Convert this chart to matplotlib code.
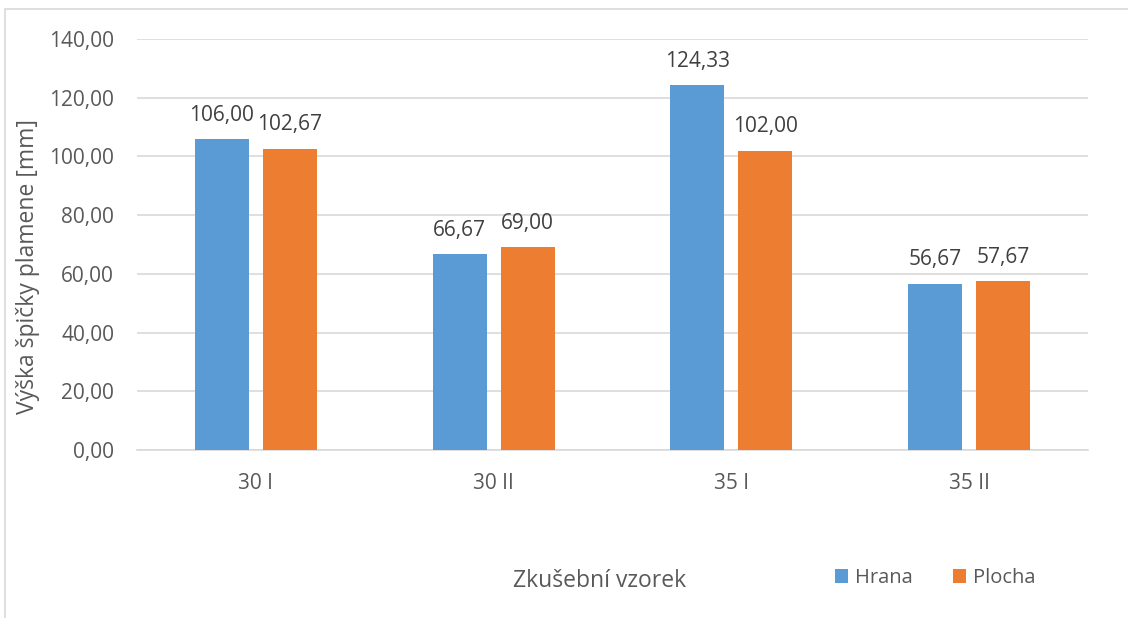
import numpy as np
import matplotlib.pyplot as plt
from matplotlib.patches import Rectangle

# data
categories = ['30 I', '30 II', '35 I', '35 II']
hrana = [106.00, 66.67, 124.33, 56.67]
plocha = [102.67, 69.00, 102.00, 57.67]

plt.rcParams['font.family'] = ['Open Sans', 'DejaVu Sans']
txt = '#595959'

fig = plt.figure(figsize=(11.28, 6.18), dpi=100)
ax = fig.add_axes([137/1128, 1 - 450/618, 951/1128, 411/618])

x = np.arange(len(categories))
w = 0.227
b1 = ax.bar(x - 0.143, hrana, w, color='#5B9BD5', label='Hrana', zorder=3)
b2 = ax.bar(x + 0.143, plocha, w, color='#ED7D31', label='Plocha', zorder=3)

for bars, vals in [(b1, hrana), (b2, plocha)]:
    for r, v in zip(bars, vals):
        ax.annotate(f'{v:.2f}'.replace('.', ','), (r.get_x() + r.get_width()/2, v),
                    xytext=(0, 9.5), textcoords='offset points',
                    ha='center', va='bottom', fontsize=15, color='#404040')

ax.set_xlim(-0.5, 3.5)
ax.set_ylim(0, 140)
ax.set_yticks(np.arange(0, 141, 20))
ax.set_yticklabels([f'{t:.2f}'.replace('.', ',') for t in np.arange(0, 141, 20)])
ax.set_xticks(x)
ax.set_xticklabels(categories)
ax.tick_params(length=0, labelsize=15, labelcolor=txt)
ax.tick_params(axis='y', pad=16.5)
ax.tick_params(axis='x', pad=16.5)
ax.grid(axis='y', color='#D9D9D9', linewidth=1.2, zorder=0)
for s in ['left', 'right', 'top']:
    ax.spines[s].set_visible(False)
ax.spines['bottom'].set_color('#D9D9D9')
ax.spines['bottom'].set_linewidth(1.2)

fig.text(28/1128, 1 - 266/618, 'Výška špičky plamene [mm]', rotation=90,
         ha='center', va='center', fontsize=16.5, color=txt)
fig.text(600/1128, 1 - 581/618, 'Zkušební vzorek', ha='center', va='center',
         fontsize=16.5, color=txt)

fig.legend(handles=[b1, b2], loc='center left', bbox_to_anchor=(817/1128, 1 - 578/618),
           ncol=2, frameon=False, fontsize=14.5, labelcolor=txt,
           handlelength=0.65, handleheight=0.65, handletextpad=0.35, columnspacing=2.0)

fig.patches.append(Rectangle((5/1128, -0.1), 1.2, 1 - 9/618 + 0.1, transform=fig.transFigure,
                             fill=False, edgecolor='#D9D9D9', linewidth=1.2))

fig.savefig('out.png', dpi=100)
